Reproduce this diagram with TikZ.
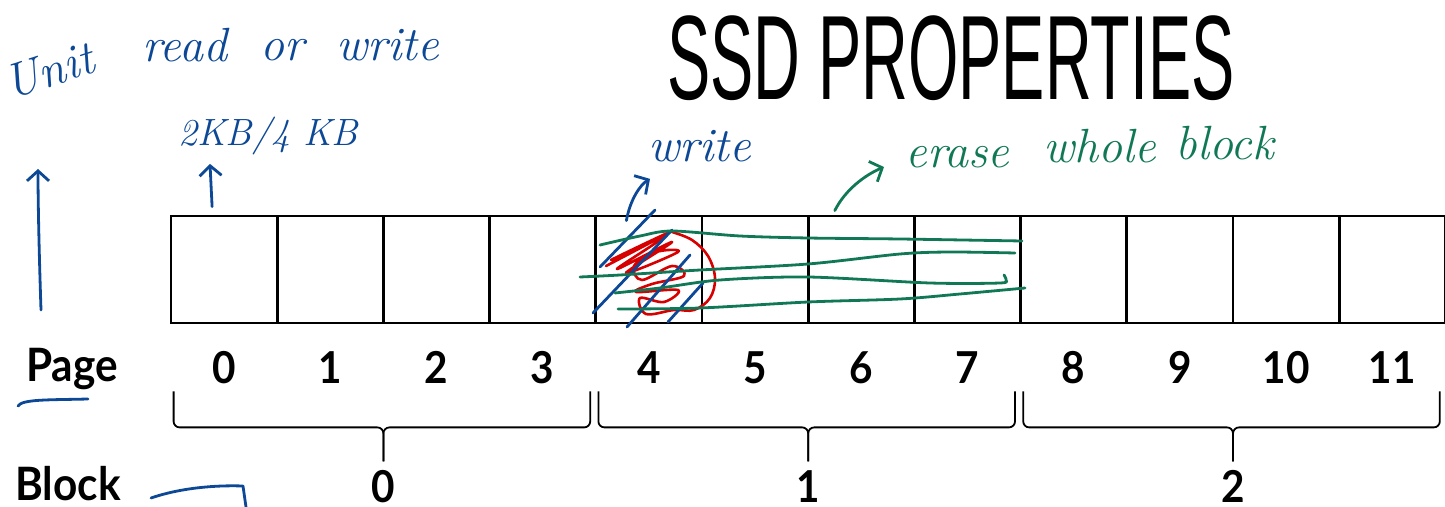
\documentclass[tikz,border=0pt]{standalone}
\usepackage{fontspec}
\usetikzlibrary{arrows.meta,calc}
\newfontfamily\labelfont{Lato}[FakeStretch=0.92]
\newfontfamily\titlefont{Liberation Sans}[FakeStretch=0.54]
\newfontfamily\handfont{Latin Modern Roman}
\definecolor{inkblue}{RGB}{12,72,150}
\definecolor{inkgreen}{RGB}{16,120,86}
\definecolor{inkred}{RGB}{214,0,0}

\begin{document}
\begin{tikzpicture}[x=0.5pt, y=-0.5pt,
  cell/.style={draw, line width=1.4pt, minimum width=53.1pt, minimum height=53.5pt, inner sep=0pt},
  num/.style={font=\labelfont\bfseries\fontsize{22}{24}\selectfont, inner sep=0pt},
  lbl/.style={font=\labelfont\bfseries\fontsize{23}{26}\selectfont, inner sep=0pt, anchor=base west},
  bracepath/.style={line width=0.9pt, rounded corners=3pt},
  hand/.style={line width=1.4pt, line cap=round, line join=round},
  handtext/.style={font=\handfont\itshape\fontsize{24}{26}\selectfont, inner sep=0pt, anchor=base west},
  inkarrow/.style={-{Straight Barb[length=5pt,width=11pt]}}]
\useasboundingbox (0,0) rectangle (1445,507);

\node[font=\titlefont\fontsize{60}{62}\selectfont, inner sep=0pt, anchor=base] (title) at (951,100) {SSD PROPERTIES};

% pages and their numbers
\foreach \i in {0,...,11} {
  \node[cell] (p\i) at ({171+106.2*(\i+0.5)},269.5) {};
  \node[num] (n\i) at ([shift={(0,43)}]p\i.south) {\i};
}
\node[lbl] (pagelbl) at (26,382) {Page};
\node[lbl] (blocklbl) at (15,500) {Block};

% blocks of four pages
\foreach \j/\a/\b in {0/0/3, 1/4/7, 2/8/11} {
  \coordinate (tip\j) at ($(p\a.south west)!.5!(p\b.south east) + (0,137)$);
  \draw[bracepath] ([shift={(4,67)}]p\a.south west) |- ([shift={(0,-34)}]tip\j) -- (tip\j);
  \draw[bracepath] ([shift={(-7,67)}]p\b.south east) |- ([shift={(0,-34)}]tip\j) -- (tip\j);
  \node[num] (blk\j) at ([shift={(0,25)}]tip\j) {\j};
}

% notes in blue
\node[handtext, color=inkblue, rotate=18] (unitlbl) at (10,100) {Unit};
\node[handtext, color=inkblue] (readlbl) at (142,62) {read};
\node[handtext, color=inkblue] (orlbl) at (260,61) {or};
\node[handtext, color=inkblue] (rwlbl) at (336,61) {write};
\node[handtext, color=inkblue, font=\handfont\itshape\fontsize{19}{21}\selectfont] (sizelbl) at (178,146) {2KB/4 KB};
\node[handtext, color=inkblue] (writelbl) at (648,162) {write};

\coordinate (unitfoot) at (41,310);
\coordinate (unithead) at (38,169);
\draw[hand, inkblue, inkarrow] (unitfoot) .. controls (39,250) and (38,200) .. (unithead);
\draw[hand, inkblue, inkarrow] ([shift={(-12,-8)}]p0.north) -- ([shift={(32,8)}]sizelbl.south west);
\draw[hand, inkblue] (18,406) .. controls (22,399) and (50,400) .. (88,399);
\draw[hand, inkblue] (151,498) .. controls (180,488) and (215,485) .. (243,486) -- (246,507);

% page 4 rewritten
\draw[hand, inkred, line width=1.3pt] plot[smooth, tension=0.6] coordinates {
  (606,266) (670,232) (611,260) (662,238) (617,269) (672,242) (626,273)
  (678,252) (656,252) (634,266) (642,280) (672,266) (684,276) (652,284)
  (636,292) (678,290) (664,302) (640,298) (646,314) (674,310) (694,310)
  (710,298) (715,278) (708,256) (692,240) (672,232)};
\draw[hand, inkblue] (600,267) -- (655,210);
\draw[hand, inkblue] (593,313) -- (672,230);
\draw[hand, inkblue] (627,327) -- (690,255);
\draw[hand, inkblue] (668,322) -- (703,283);
\draw[hand, inkblue, inkarrow] ([shift={(32,6)}]p4.north west) .. controls (630,200) and (640,185) .. ([shift={(2,16)}]writelbl.south west);

% whole block erased, in green
\node[handtext, color=inkgreen] (eraselbl) at (905,168) {erase};
\node[handtext, color=inkgreen] (wholelbl) at (1043,163) {whole};
\node[handtext, color=inkgreen] (blocknote) at (1175,160) {block};
\draw[hand, inkgreen, inkarrow] ([shift={(28,-4)}]p6.north west) .. controls (845,190) and (865,175) .. ([shift={(-21,-1)}]eraselbl.base west);
\draw[hand, inkgreen] plot[smooth] coordinates {(600,245) (640,236) (672,231) (740,236) (808,238) (900,239) (1022,241)};
\draw[hand, inkgreen] plot[smooth] coordinates {(1015,253) (950,252) (900,254) (808,264) (700,270) (620,275) (580,277)};
\draw[hand, inkgreen] plot[smooth] coordinates {(1004,275) (1006,280) (1000,283) (930,283) (808,277) (720,280) (660,288) (615,293)};
\draw[hand, inkgreen] plot[smooth] coordinates {(618,309) (700,308) (808,302) (900,299) (960,294) (1025,288)};
\end{tikzpicture}
\end{document}
